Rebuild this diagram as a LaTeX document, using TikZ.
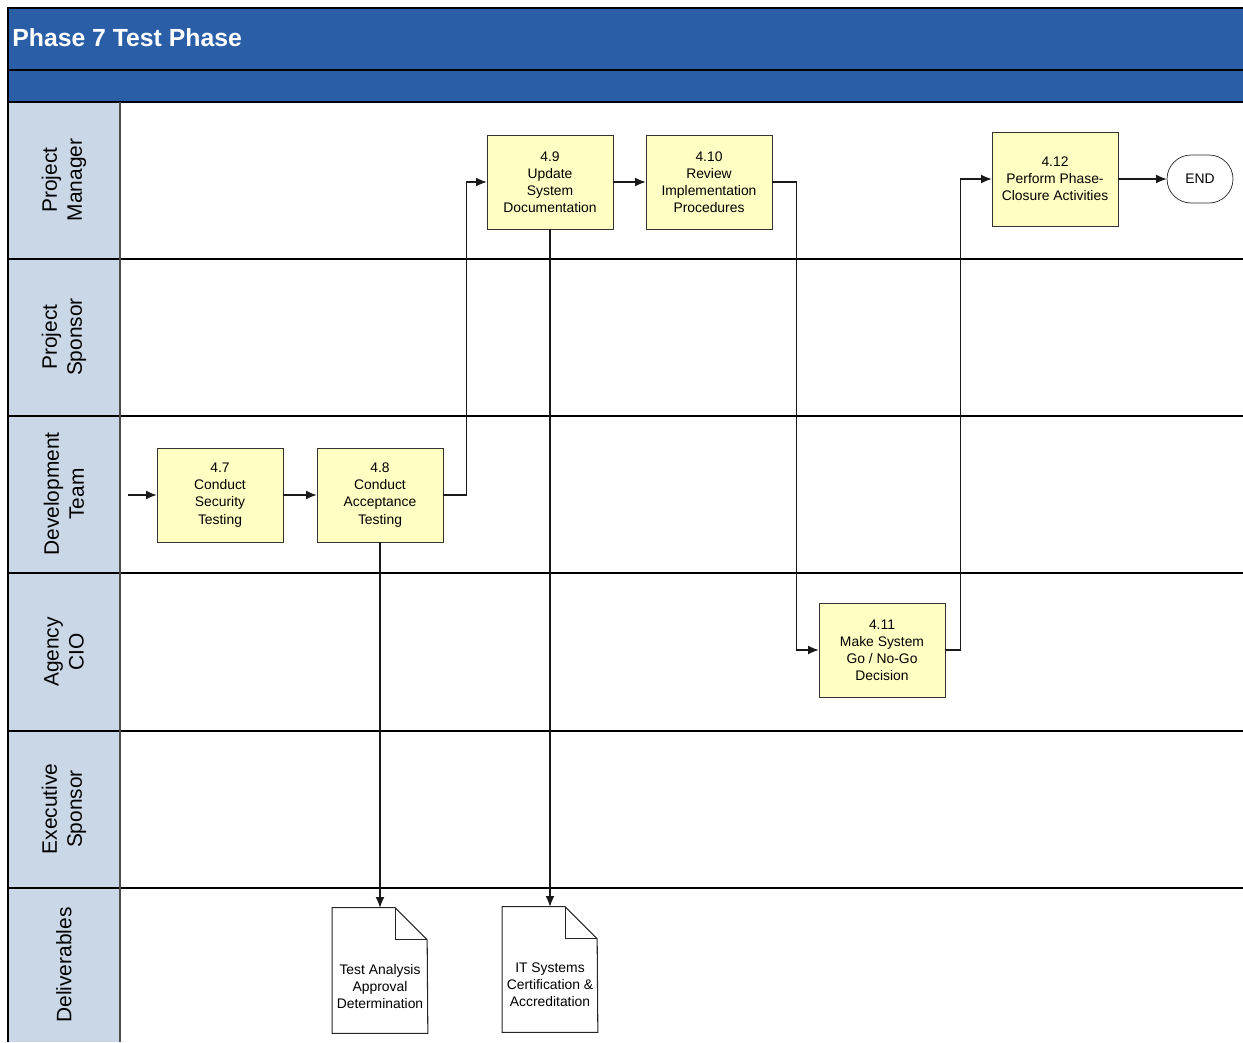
\documentclass[tikz,border=0pt]{standalone}
\usepackage{fontspec}
\setmainfont{Liberation Sans}
\usetikzlibrary{arrows.meta}
\definecolor{titleblue}{HTML}{2A5EA7}
\definecolor{lanegray}{HTML}{C9D7E6}
\definecolor{boxyellow}{HTML}{FFFFC4}
\tikzset{
  proc/.style={draw=black!80, fill=boxyellow, minimum width=2.52cm, minimum height=1.88cm,
    align=center, inner sep=0pt, font=\fontsize{7.9}{9.75}\selectfont},
  lanelbl/.style={rotate=90, align=center, font=\fontsize{11.9}{14.2}\selectfont},
  flow/.style={-{Latex[length=6pt,width=5pt]}, draw=black!90, line width=0.6pt},
  docbody/.style={minimum width=1.9cm, minimum height=2.5cm, inner sep=0pt},
  doctext/.style={align=center, font=\fontsize{7.9}{9.6}\selectfont},
  laneline/.style={black, line width=0.9pt},
}
\begin{document}
\begin{tikzpicture}[x=0.02cm,y=-0.02cm]
  \useasboundingbox (0,0) rectangle (1243,1042);
  % header bars
  \fill[titleblue] (8,8) rectangle (1243,102);
  \fill[lanegray] (8,102) rectangle (120,1042);
  \node[anchor=west, inner sep=0pt, text=white, font=\bfseries\fontsize{14.1}{16}\selectfont] (title) at (12,38) {Phase 7 Test Phase};
  \draw[laneline] (8,1042) -- (8,8) -- (1243,8);
  \foreach \yy in {70,102,259,416,573,731,888}
    \draw[laneline] (8,\yy) -- (1243,\yy);
  \draw[black!70, line width=0.7pt] (120,102) -- (120,1042);
  % lane names
  \node[lanelbl] (pm) at (64,180) {Project\\Manager};
  \node[lanelbl] (ps) at (64,337) {Project\\Sponsor};
  \node[lanelbl] (dt) at (64,494) {Development\\Team};
  \node[lanelbl] (cio) at (64,652) {Agency\\CIO};
  \node[lanelbl] (es) at (64,809) {Executive\\Sponsor};
  \node[lanelbl] (dl) at (64,965) {Deliverables};
  % steps
  \node[proc] (t47) at (220,495) {4.7\\Conduct\\Security\\Testing};
  \node[proc] (t48) at (380,495) {4.8\\Conduct\\Acceptance\\Testing};
  \node[proc] (t49) at (550,182) {4.9\\Update\\System\\Documentation};
  \node[proc] (t410) at (709,182) {4.10\\Review\\Implementation\\Procedures};
  \node[proc] (t411) at (882,650) {4.11\\Make System\\Go / No-Go\\Decision};
  \node[proc] (t412) at (1055,179) {4.12\\Perform Phase-\\Closure Activities};
  \node[draw=black!85, rounded corners=0.48cm, minimum width=1.32cm, minimum height=0.96cm,
    font=\fontsize{7.9}{9.6}\selectfont] (theend) at (1200,179) {END};
  % deliverables
  \node[docbody] (docA) at (380,970.5) {};
  \draw[black!85, line width=0.6pt] (docA.south west) -- (docA.north west) -- ++(63,0) coordinate (foldA)
    -- ++(32,32) -- (docA.south east) -- cycle;
  \draw[black!85, line width=0.6pt] (foldA) -- ++(0,32) -- ++(32,0);
  \node[doctext] (docAtxt) at ([yshift=-0.32cm]docA.center) {Test Analysis\\Approval\\Determination};
  \node[docbody] (docB) at (550,969.5) {};
  \draw[black!85, line width=0.6pt] (docB.south west) -- (docB.north west) -- ++(63,0) coordinate (foldB)
    -- ++(32,32) -- (docB.south east) -- cycle;
  \draw[black!85, line width=0.6pt] (foldB) -- ++(0,32) -- ++(32,0);
  \node[doctext] (docBtxt) at ([yshift=-0.3cm]docB.center) {IT Systems\\Certification \&\\Accreditation};
  % flow
  \coordinate (start) at (128,495);
  \draw[flow] (start) -- (t47);
  \draw[flow] (t47) -- (t48);
  \draw[flow] (t48.east) -- ++(23,0) |- (t49.west);
  \draw[flow] (t49) -- (t410);
  \draw[flow] (t410.east) -- ++(24,0) |- (t411.west);
  \draw[flow] (t411.east) -- ++(15,0) |- (t412.west);
  \draw[flow] (t412) -- (theend);
  \draw[flow] (t48.south) -- (docA.north);
  \draw[flow] (t49.south) -- (docB.north);
\end{tikzpicture}
\end{document}
